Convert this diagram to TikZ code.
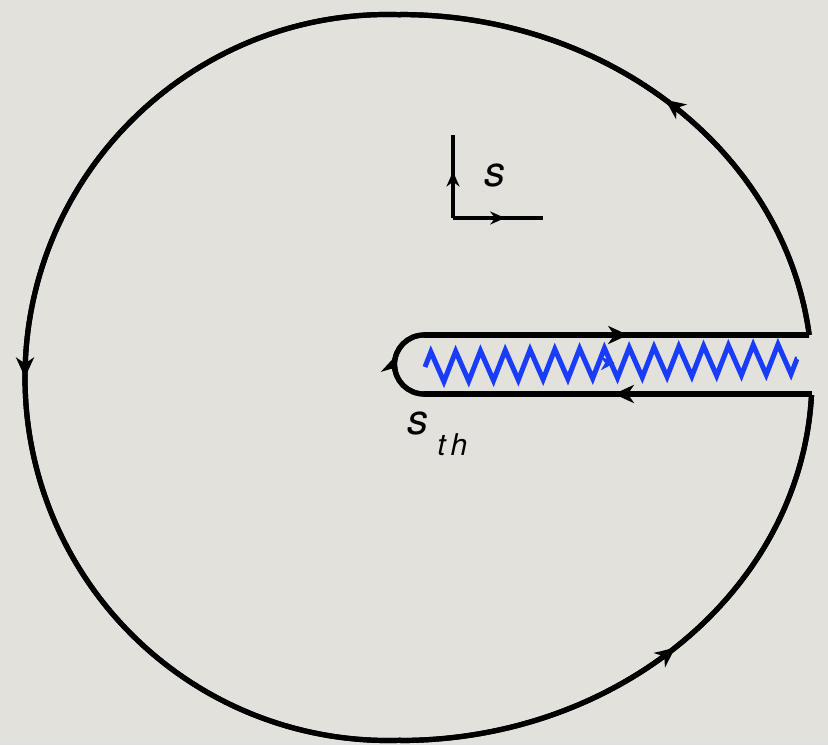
\documentclass[tikz,border=0pt]{standalone}
\usepackage{fontspec}
\setmainfont{TeX Gyre Heros}
\usetikzlibrary{arrows.meta,decorations.pathmorphing,decorations.markings}
\definecolor{bg}{RGB}{227,225,220}
\definecolor{zigblue}{RGB}{25,60,250}
\tikzset{
  contour/.style={line width=2.6pt, black, line join=miter},
  midarrow/.style={postaction={decorate,decoration={markings,
      mark=at position #1 with {\arrow{Stealth[length=10pt,width=9pt,inset=3pt]}}}}},
  axis/.style={line width=1.7pt, black},
  axarrow/.style={postaction={decorate,decoration={markings,
      mark=at position #1 with {\arrow{Stealth[length=7.5pt,width=6.5pt,inset=2.4pt]}}}}},
  cut/.style={line width=2.5pt, zigblue, decorate,
      decoration={zigzag, segment length=12.4pt, amplitude=7.5pt}},
  lbl/.style={inner sep=0pt, font=\itshape},
}
\begin{document}
\begin{tikzpicture}[x=0.5pt,y=0.5pt]
\fill[bg] (0,0) rectangle (828,745);
\useasboundingbox (0,0) rectangle (828,745);

% contour key points
\coordinate (T) at (400.67,730.28);
\coordinate (R1) at (809.2,410);
\coordinate (B) at (400,4.5);
\coordinate (R2) at (811.5,351);
\coordinate (K2) at (424,351);
\coordinate (K1) at (424,410);

% whole contour (for clean joins)
\draw[contour] (R1) arc[start angle=6.73, end angle=90, x radius=412, y radius=363]
  (T) arc[start angle=88, end angle=272, radius=363]
  (B) arc[start angle=270, end angle=357.24, x radius=412, y radius=363]
  (R2) -- (K2) arc[start angle=-90, end angle=-270, radius=29.5] -- (R1);

% segments with direction arrows
\draw[contour, midarrow=0.5] (R1) arc[start angle=6.73, end angle=90, x radius=412, y radius=363];
\draw[contour, midarrow=0.5] (T) arc[start angle=88, end angle=272, radius=363];
\draw[contour, midarrow=0.5] (B) arc[start angle=270, end angle=357.24, x radius=412, y radius=363];
\draw[contour, midarrow=0.51] (R2) -- (K2);
\draw[contour, midarrow=0.6] (K2) arc[start angle=-90, end angle=-270, radius=29.5];
\draw[contour, midarrow=0.53] (K1) -- (R1);

% branch cut
\coordinate (Z1) at (425,378);
\coordinate (Z2) at (797,386);
\draw[cut] (Z1) -- (Z2);
\path[postaction={decorate,decoration={markings,
      mark=at position 0.51 with {\arrow[zigblue]{Stealth[length=7pt,width=7pt,inset=2.2pt]}}}}] (Z1) -- (Z2);

% axes
\coordinate (O) at (453,527);
\coordinate (V) at (453,610);
\coordinate (H) at (543,527);
\draw[axis, axarrow=0.56] (O) -- (V);
\draw[axis, axarrow=0.58] (O) -- (H);

% labels
\node[lbl, font=\itshape\fontsize{21}{25}\selectfont] (slabel) at (495,570) {s};
\node[lbl, font=\itshape\fontsize{21}{25}\selectfont] (sth) at (418,322) {s};
\node[lbl, font=\itshape\fontsize{15}{18}\selectfont, anchor=base west] (th) at (437,290) {t\hspace{2.5pt}h};
\end{tikzpicture}
\end{document}
